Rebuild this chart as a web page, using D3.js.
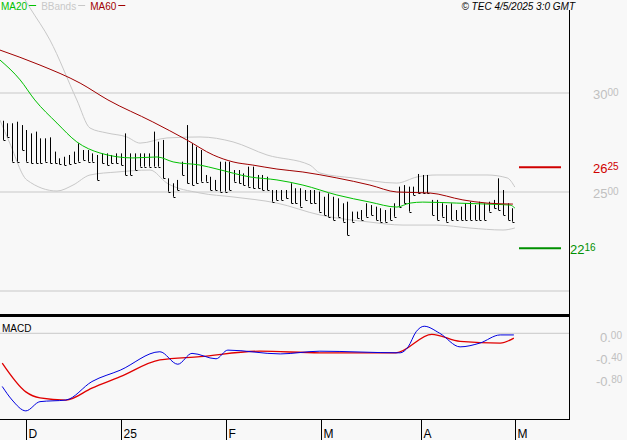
<!DOCTYPE html>
<html><head><meta charset="utf-8">
<script src="https://cdn.jsdelivr.net/npm/d3@7"></script>
<style>body{margin:0;background:#f8f8f8}svg{display:block}text{font-family:"Liberation Sans",Arial,sans-serif}</style>
</head><body><svg id="c" width="627" height="440"></svg>
<script>
const highs=[2860,2847,2847,2855,2838,2813,2796,2805,2771,2771,2776,2704,2670,2678,2687,2704,2746,2712,2712,2695,2687,2695,2695,2687,2695,2695,2796,2695,2695,2695,2695,2695,2805,2754,2763,2569,2544,2561,2653,2838,2746,2729,2712,2586,2577,2561,2653,2653,2653,2611,2611,2594,2628,2628,2586,2586,2577,
2510,2510,2510,2510,2544,2519,2519,2510,2510,2510,2502,2476,2493,2476,2468,2443,2451,2401,2401,2409,2443,2434,2426,2418,2409,2418,2443,2527,2535,2527,2527,2591,2586,2586,2460,2460,2443,2434,2443,2409,2426,2443,2451,2434,2451,2443,2451,2460,2569,2510,2443,2418];
const lows=[2763,2779,2653,2653,2712,2653,2645,2645,2645,2653,2645,2645,2641,2636,2641,2645,2653,2662,2653,2653,2561,2645,2636,2645,2645,2636,2586,2586,2611,2628,2628,2628,2628,2628,2569,2502,2476,2510,2586,2544,2535,2544,2552,2552,2510,2510,2502,2502,2510,2552,2544,2535,2527,2519,2519,2510,2510,
2451,2460,2460,2468,2443,2443,2426,2460,2443,2443,2401,2384,2375,2359,2375,2350,2283,2350,2367,2359,2375,2384,2359,2350,2350,2359,2375,2426,2443,2401,2485,2493,2493,2493,2384,2359,2375,2350,2359,2359,2359,2359,2359,2359,2359,2359,2401,2418,2409,2384,2359,2350];
const ma60=[[-0.6,3217],[7.9,3141],[16.4,3050],[22.3,2965],[31.8,2854],[39,2763],[44.6,2687],[48.8,2652],[53,2636],[58.1,2616],[63.6,2601],[70.8,2571],[77.8,2535],[83.5,2500],[90.5,2495],[97.5,2460],[102.6,2444],[108.1,2439]];
const ma20=[[-0.6,3167],[3.7,3066],[6.8,2965],[11.5,2848],[15.7,2753],[20.6,2697],[27.6,2672],[32.7,2677],[36.1,2652],[41.8,2636],[45.4,2616],[52.4,2576],[58.1,2561],[63.6,2535],[70.8,2485],[77.8,2449],[83.5,2424],[86.3,2444],[89,2449],[96.2,2444],[102.6,2439],[107.5,2434],[108.5,2419]];
const bbUpper=[[4.1,3495],[5.8,3429],[10,3268],[15.7,2965],[18.5,2823],[22.1,2798],[26.3,2778],[29.1,2747],[34.8,2773],[41.8,2778],[48.8,2753],[56,2687],[65.1,2636],[67.2,2596],[74.2,2571],[83.5,2545],[87.8,2576],[92,2586],[102.6,2586],[106.9,2571],[108.5,2525]];
const bbLower=[[-0.6,2864],[1.5,2747],[5.1,2561],[11.5,2505],[14.9,2535],[18.5,2586],[24.2,2601],[31.2,2611],[34.8,2545],[41.8,2495],[48.8,2475],[58.1,2444],[67.2,2384],[77.8,2348],[84.8,2333],[92,2333],[99,2318],[106,2308],[108.5,2318]];
const macd=[[-0.1,-0.98],[2,-1.23],[4.9,-1.43],[7.9,-1.26],[13.4,-1.23],[18.9,-0.89],[24.9,-0.68],[33.3,-0.34],[37.1,-0.57],[40.1,-0.37],[45.2,-0.47],[47.7,-0.31],[58.8,-0.38],[67.2,-0.33],[84.2,-0.36],[85.9,-0.25],[87.6,0.03],[89.3,0.13],[92.6,0],[96.9,-0.25],[101.1,-0.18],[105.4,-0.03],[108.3,-0.03]];
const signal=[[-0.1,-0.55],[4.9,-1.08],[7.9,-1.19],[13.4,-1.23],[18.9,-1.01],[24.9,-0.80],[33.3,-0.49],[41.8,-0.43],[54.5,-0.33],[67.2,-0.36],[83.3,-0.36],[90.9,-0.02],[96.9,-0.15],[105.4,-0.18],[108.3,-0.09]];
const priceTicks=[3000,2500,2000];
const macdTicks=[0,-0.4,-0.8];
const xTicks=[[5,"D"],[25,"25"],[47.3,"F"],[67.4,"M"],[88.6,"A"],[108.5,"M"]];
const resistance=2625, support=2216;

const svg=d3.select("#c");
const x=d3.scaleLinear().domain([0,1]).range([2.7,7.42]);
const y=d3.scaleLinear().domain([2500,3000]).range([192,93]);
const ym=d3.scaleLinear().domain([0,-0.4]).range([333.3,355]);
const R=569;
priceTicks.forEach(t=>svg.append("line").attr("x1",0).attr("x2",R).attr("y1",y(t)).attr("y2",y(t)).attr("stroke","#c8c8c8"));
svg.append("line").attr("x1",0).attr("x2",R).attr("y1",ym(0)).attr("y2",ym(0)).attr("stroke","#c8c8c8");
const g=svg.append("g");
const ln=d3.line().x(d=>x(d[0])).y(d=>y(d[1])).curve(d3.curveMonotoneX);
g.append("path").attr("d",ln(bbUpper)).attr("fill","none").attr("stroke","#c8c8c8");
g.append("path").attr("d",ln(bbLower)).attr("fill","none").attr("stroke","#c8c8c8");
highs.forEach((h,i)=>{
  const xx=Math.round(x(i))+0.5;
  g.append("line").attr("x1",xx).attr("x2",xx).attr("y1",y(h)).attr("y2",y(lows[i])).attr("stroke","#000");
  g.append("line").attr("x1",xx).attr("x2",xx+2).attr("y1",Math.round(y(lows[i]))+0.5).attr("y2",Math.round(y(lows[i]))+0.5).attr("stroke","#000");
});
g.append("path").attr("d",ln(ma20)).attr("fill","none").attr("stroke","#00c000");
g.append("path").attr("d",ln(ma60)).attr("fill","none").attr("stroke","#a00000");
svg.append("rect").attr("x",0).attr("y",-20).attr("width",R).attr("height",20).attr("fill","#f8f8f8");
svg.append("line").attr("x1",519).attr("x2",561).attr("y1",y(resistance)).attr("y2",y(resistance)).attr("stroke","#d00000").attr("stroke-width",2);
svg.append("line").attr("x1",519).attr("x2",561).attr("y1",y(support)).attr("y2",y(support)).attr("stroke","#009000").attr("stroke-width",2);
function lab(xp,yp,v,col){const t=svg.append("text").attr("x",xp).attr("y",yp).attr("fill",col).attr("font-size",13);
 t.append("tspan").text(v[0]);t.append("tspan").attr("font-size",10).attr("dy",-3).text(v[1]);}
priceTicks.slice(0,2).forEach(t=>lab(593,y(t)+6,[String(t).slice(0,2),String(t).slice(2)],"#c0c0c0"));
lab(593,y(resistance)+6,[String(resistance).slice(0,2),String(resistance).slice(2)],"#d00000");
lab(570,y(support)+6,[String(support).slice(0,2),String(support).slice(2)],"#009000");
macdTicks.forEach(t=>{const p=t.toFixed(2).split(".");
 lab(t==0?600:596,ym(t)+9,[p[0]+".",p[1]],"#c0c0c0");});
const lm=d3.line().x(d=>x(d[0])).y(d=>ym(d[1])).curve(d3.curveMonotoneX);
svg.append("path").attr("d",lm(signal)).attr("fill","none").attr("stroke","#e00000").attr("stroke-width",1.3);
svg.append("path").attr("d",lm(macd)).attr("fill","none").attr("stroke","#0000e0");
svg.append("text").attr("x",2).attr("y",332).attr("font-size",10).text("MACD");
svg.append("line").attr("x1",R+0.5).attr("x2",R+0.5).attr("y1",10).attr("y2",420).attr("stroke","#000");
svg.append("line").attr("x1",0).attr("x2",R).attr("y1",315.5).attr("y2",315.5).attr("stroke","#000").attr("stroke-width",3);
svg.append("line").attr("x1",0).attr("x2",R+1).attr("y1",419.5).attr("y2",419.5).attr("stroke","#000");
xTicks.forEach(([i,l])=>{const xx=Math.round(x(i))+0.5;
 svg.append("line").attr("x1",xx).attr("x2",xx).attr("y1",420).attr("y2",440).attr("stroke","#000");
 svg.append("text").attr("x",xx+2).attr("y",438).attr("font-size",12).text(l);});
const leg=[["MA20","#00c000"],["BBands","#c8c8c8"],["MA60","#a00000"]];
let lx=1;
leg.forEach(([t,c])=>{const tx=svg.append("text").attr("x",lx).attr("y",10).attr("font-size",10).attr("fill",c).text(t);
 const w=tx.node().getComputedTextLength();svg.append("line").attr("x1",lx+w+2).attr("x2",lx+w+9).attr("y1",5.5).attr("y2",5.5).attr("stroke",c);lx+=w+14;});
svg.append("text").attr("x",575).attr("y",10).attr("text-anchor","end").attr("font-size",10).attr("font-style","italic").text("© TEC 4/5/2025 3:0 GMT");
</script></body></html>
